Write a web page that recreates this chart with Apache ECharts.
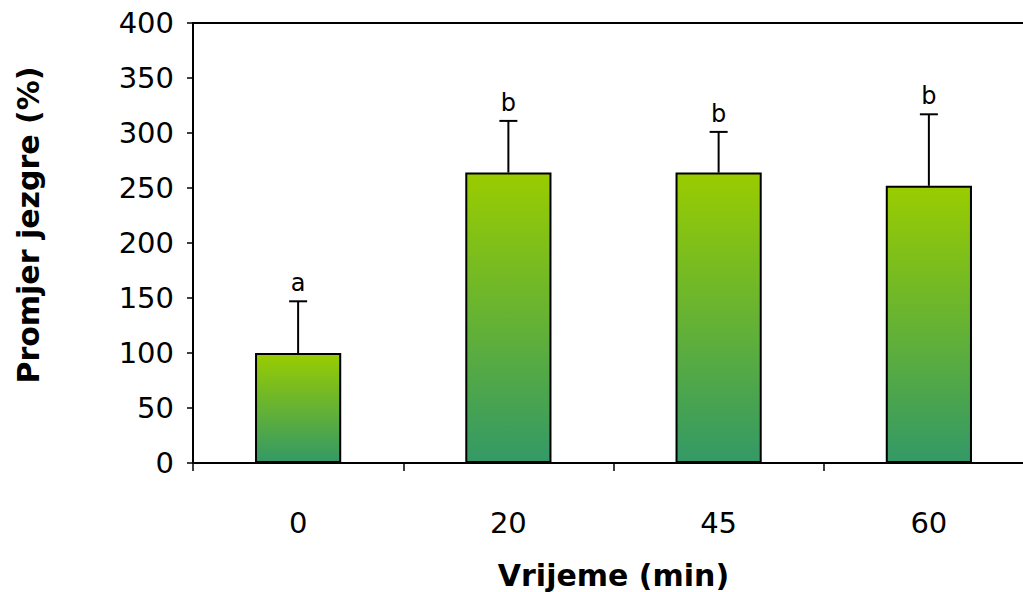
<!DOCTYPE html>
<html>
<head>
<meta charset="utf-8">
<script src="https://cdn.jsdelivr.net/npm/echarts@6/dist/echarts.min.js"></script>
<style>html,body{margin:0;padding:0;background:#fff}#c{width:1023px;height:592px}</style>
</head>
<body>
<div id="c"></div>
<script>
var categories = ['0', '20', '45', '60'];
var means = [100, 264, 264, 252];
var errors = [47, 47, 37, 65];
var letters = ['a', 'b', 'b', 'b'];
var yTicks = [0, 50, 100, 150, 200, 250, 300, 350, 400];

var chart = echarts.init(document.getElementById('c'), null, {renderer: 'svg'});
var font = 'DejaVu Sans, Verdana, sans-serif';
var errData = means.map(function (m, i) { return [i, m, m + errors[i], letters[i]]; });

chart.setOption({
  animation: false,
  grid: {left: 193, right: -11, top: 23, bottom: 129, show: true, borderColor: '#000', borderWidth: 2,
         backgroundColor: 'transparent', containLabel: false, outerBoundsMode: 'none'},
  xAxis: {
    type: 'category', data: categories,
    axisLine: {lineStyle: {color: '#000', width: 2}},
    axisTick: {show: true, length: 8, lineStyle: {color: '#000', width: 1.5}},
    axisLabel: {color: '#000', fontSize: 29, fontFamily: font, margin: 45},
    name: 'Vrijeme (min)', nameLocation: 'middle', nameGap: 97,
    nameTextStyle: {color: '#000', fontSize: 30, fontWeight: 'bold', fontFamily: font}
  },
  yAxis: {
    type: 'value', min: 0, max: 400, interval: 50,
    axisLine: {show: true, lineStyle: {color: '#000', width: 2}},
    axisTick: {show: true, length: 6, lineStyle: {color: '#000', width: 1.5}},
    splitLine: {show: false},
    axisLabel: {color: '#000', fontSize: 29, fontFamily: font, margin: 19,
      formatter: function (v) { return yTicks.indexOf(v) >= 0 ? String(v) : ''; }},
    name: 'Promjer jezgre (%)', nameLocation: 'middle', nameGap: 150,
    nameTextStyle: {color: '#000', fontSize: 30, fontWeight: 'bold', fontFamily: font, padding: [0, 0, 0, 36]}
  },
  series: [
    {
      type: 'bar', data: means, barWidth: '41%',
      itemStyle: {
        borderColor: '#000', borderWidth: 2,
        color: new echarts.graphic.LinearGradient(0, 0, 0, 1, [
          {offset: 0, color: '#99cc00'},
          {offset: 1, color: '#339966'}
        ])
      }
    },
    {
      type: 'custom', data: errData, z: 1,
      renderItem: function (params, api) {
        var x = api.value(0);
        var p0 = api.coord([x, api.value(1)]);
        var p1 = api.coord([x, api.value(2)]);
        var cap = 9;
        return {
          type: 'group',
          children: [
            {type: 'line', shape: {x1: p0[0], y1: p0[1], x2: p1[0], y2: p1[1]}, style: {stroke: '#000', lineWidth: 2}},
            {type: 'line', shape: {x1: p1[0] - cap, y1: p1[1], x2: p1[0] + cap, y2: p1[1]}, style: {stroke: '#000', lineWidth: 2}},
            {type: 'text', x: p1[0], y: p1[1] - 6, style: {text: api.value(3), fill: '#000', fontSize: 24, fontFamily: font, align: 'center', verticalAlign: 'bottom'}}
          ]
        };
      },
      encode: {x: 0, y: [1, 2]}
    }
  ]
});
</script>
</body>
</html>
